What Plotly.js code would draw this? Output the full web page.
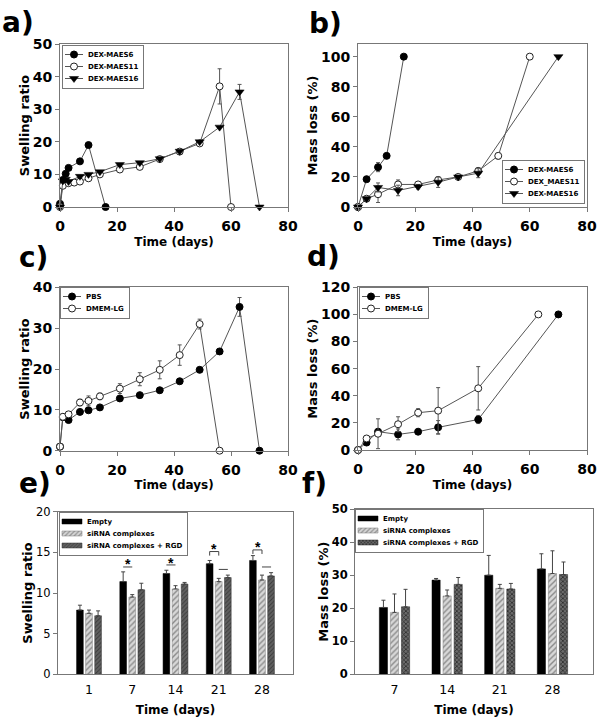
<!DOCTYPE html>
<html><head><meta charset="utf-8">
<script src="https://cdn.plot.ly/plotly-3.0.1.min.js"></script>
<style>body{margin:0;padding:0;background:#fff}#chart{width:604px;height:724px}</style>
</head><body><div id="chart"></div>
<script>
// ---------- Panel a: swelling ratio vs time ----------
const a_t6  = [0,1,2,3,7,10,16];
const a_s6  = [1,8.3,10.2,12,14,19,0];
const a_t11 = [0,1,3,5,7,10,14,21,28,35,42,49,56,60];
const a_s11 = [0,6.5,7.3,7.5,7.8,8.8,10,11.5,12.3,14.7,17,19.5,37,0];
const a_e11 = [0,0,0,0,0,0,0,0,0,0,0,0,5.4,0];
const a_t16 = [0,1,2,3,7,10,14,21,28,35,42,49,56,63,70];
const a_s16 = [0,8,8.5,7.8,9.4,10,10.8,13,13.6,14.8,17.1,20,24.5,35.3,0];
const a_e16 = [0,0,0,0,0,0,0,0,0,0,0,0,0,2.3,0];
// ---------- Panel b: mass loss vs time ----------
const b_t6  = [0,3,7,10,16];
const b_m6  = [0,18.5,26.5,34,100];
const b_e6  = [0,0,3,0,0];
const b_t11 = [0,3,7,14,21,28,35,42,49,60];
const b_m11 = [0,5.5,8.5,15,15,18,20,24,34,100];
const b_e11 = [0,0,5.5,3,1.5,2,1,2,2,0];
const b_t16 = [0,3,7,14,21,28,35,42,70];
const b_m16 = [0,5.5,13,11,13.5,16.5,20,22.5,100];
const b_e16 = [0,1,3,3.5,1.5,3.5,1,3,0];
// ---------- Panel c: swelling in PBS / DMEM-LG ----------
const c_tP = [0,1,3,7,10,14,21,28,35,42,49,56,63,70];
const c_sP = [1,8.2,7.5,9.5,9.9,10.6,12.8,13.6,14.8,17,19.8,24.3,35.2,0];
const c_eP = [0,0,0,0,0,0,0,0,0,0,0,0,2.3,0];
const c_tD = [0,1,3,7,10,14,21,28,35,42,49,56];
const c_sD = [1,8.3,8.9,11.8,12.2,13.3,15.2,17.5,19.8,23.4,31,0];
const c_eD = [0,0,0,0.8,1.2,0.8,1.2,1.6,2.2,2.5,1.2,0];
// ---------- Panel d: mass loss in PBS / DMEM-LG ----------
const d_tP = [0,3,7,14,21,28,42,70];
const d_mP = [0,5.5,13.5,11.5,13.5,16.7,22.5,100];
const d_eP = [0,1,2,4,1.5,5,3,0];
const d_tD = [0,3,7,14,21,28,42,63];
const d_mD = [0,8.5,12,19,27.5,29,45.5,100];
const d_eD = [0,1,11,5.5,3,17,16,0];
// ---------- Panel e: swelling ratio bars ----------
const e_days  = ['1','7','14','21','28'];
const e_empty = [7.9,11.4,12.4,13.6,14.0];
const e_emptyErr = [0.6,1.2,0.4,0.4,0.6];
const e_si    = [7.5,9.5,10.5,11.4,11.6];
const e_siErr = [0.4,0.3,0.4,0.4,0.6];
const e_rgd   = [7.2,10.4,11.1,11.9,12.1];
const e_rgdErr= [0.6,0.8,0.2,0.3,0.4];
// ---------- Panel f: mass loss bars ----------
const f_days  = ['7','14','21','28'];
const f_empty = [20.2,28.5,30,31.9];
const f_emptyErr = [2.2,0.5,6,4.6];
const f_si    = [18.7,23.7,26,30.5];
const f_siErr = [5.6,1.8,1.2,6.9];
const f_rgd   = [20.4,27.2,25.8,30.2];
const f_rgdErr= [5.3,2.1,1.7,3.8];

const names6 = ['DEX-MAES6','DEX-MAES11','DEX-MAES16'];
const namesB = ['DEX-MAES6','DEX_MAES11','DEX-MAES16'];
const namesCD = ['PBS','DMEM-LG'];
const namesBar = ['Empty','siRNA complexes','siRNA complexes + RGD'];

const LC = '#555';
const filled = {symbol:'circle', size:7, color:'#000', line:{color:'#000', width:1}};
const open   = {symbol:'circle', size:7, color:'#fff', line:{color:'#222', width:1}};
const tri    = {symbol:'triangle-down', size:8, color:'#000', line:{color:'#000', width:0.5}};
function err(a){ return {type:'data', array:a, visible:true, color:LC, thickness:1, width:2}; }
function line(x,y,e,m,name,xa,ya,lg){
  return {type:'scatter', mode:'lines+markers', x:x, y:y, name:name, xaxis:xa, yaxis:ya,
    legend:lg, line:{color:LC, width:1}, marker:m, error_y: e? err(e): undefined, cliponaxis:false};
}
function bar(x,y,e,name,xa,ya,lg,style){
  return Object.assign({type:'bar', x:x, y:y, name:name, xaxis:xa, yaxis:ya, legend:lg,
    error_y:{type:'data', symmetric:false, array:e, arrayminus:e.map(()=>0), color:'#444', thickness:1, width:2}}, style);
}
const sBlack = {marker:{color:'#000', line:{color:'#000', width:0.5}}};
const sHatch = {marker:{color:'#d0d0d0', line:{color:'#777', width:0.5}, pattern:{shape:'/', fgcolor:'#8a8a8a', bgcolor:'#d8d8d8', size:4, solidity:0.35}}};
const sDarkE = {marker:{color:'#555', line:{color:'#333', width:0.5}, pattern:{shape:'/', fgcolor:'#3a3a3a', bgcolor:'#606060', size:3, solidity:0.3}}};
const sDarkF = {marker:{color:'#444', line:{color:'#222', width:0.5}, pattern:{shape:'x', fgcolor:'#222', bgcolor:'#6a6a6a', size:3, solidity:0.4}}};

const data = [
  line(a_t6,a_s6,null,filled,names6[0],'x','y','legend'),
  line(a_t11,a_s11,a_e11,open,names6[1],'x','y','legend'),
  line(a_t16,a_s16,a_e16,tri,names6[2],'x','y','legend'),
  line(b_t6,b_m6,b_e6,filled,namesB[0],'x2','y2','legend2'),
  line(b_t11,b_m11,b_e11,open,namesB[1],'x2','y2','legend2'),
  line(b_t16,b_m16,b_e16,tri,namesB[2],'x2','y2','legend2'),
  line(c_tP,c_sP,c_eP,filled,namesCD[0],'x3','y3','legend3'),
  line(c_tD,c_sD,c_eD,open,namesCD[1],'x3','y3','legend3'),
  line(d_tP,d_mP,d_eP,filled,namesCD[0],'x4','y4','legend4'),
  line(d_tD,d_mD,d_eD,open,namesCD[1],'x4','y4','legend4'),
  bar(e_days,e_empty,e_emptyErr,namesBar[0],'x5','y5','legend5',sBlack),
  bar(e_days,e_si,e_siErr,namesBar[1],'x5','y5','legend5',sHatch),
  bar(e_days,e_rgd,e_rgdErr,namesBar[2],'x5','y5','legend5',sDarkE),
  bar(f_days,f_empty,f_emptyErr,namesBar[0],'x6','y6','legend6',sBlack),
  bar(f_days,f_si,f_siErr,namesBar[1],'x6','y6','legend6',sHatch),
  bar(f_days,f_rgd,f_rgdErr,namesBar[2],'x6','y6','legend6',sDarkF)
];

const W=604, H=724;
const px = v => v/W, py = v => 1 - v/H;
const FB = 'DejaVu Sans';
const tickB = {family:FB, size:14, color:'#000', weight:'bold'};
const titleFx = {family:FB, size:12, color:'#000', weight:'bold'};
const titleFy = {family:FB, size:13, color:'#000', weight:'bold'};
function xa(dom, anchor, extra){
  return Object.assign({domain:dom, anchor:anchor, showline:true, mirror:true, linecolor:'#777', linewidth:1,
    ticks:'outside', ticklen:4, tickcolor:'#777', showgrid:false, zeroline:false, tickfont:tickB, ticklabelstandoff:2,
    title:{text:'Time (days)', font:titleFx, standoff:4}}, extra);
}
function ya(dom, anchor, title, extra){
  return Object.assign({domain:dom, anchor:anchor, showline:true, mirror:true, linecolor:'#777', linewidth:1,
    ticks:'outside', ticklen:4, tickcolor:'#777', showgrid:false, zeroline:false, tickfont:tickB,
    title:{text:title, font:titleFy, standoff:0}}, extra);
}
const legFont = {family:FB, size:7, color:'#000', weight:'bold'};
function leg(x,y){
  return {x:x, y:y, xanchor:'left', yanchor:'top', bgcolor:'rgba(0,0,0,0)', bordercolor:'#777', borderwidth:0,
    font:legFont, itemwidth:30, tracegroupgap:0, xref:'paper', yref:'paper'};
}

const colL = [px(60), px(288)], colR = [px(358), px(587)];
const layout = {
  width:W, height:H, margin:{l:0,r:0,t:0,b:0}, paper_bgcolor:'#fff', plot_bgcolor:'#fff',
  showlegend:true, barmode:'group', bargap:0.37, bargroupgap:0.26,
  xaxis:  xa(colL,'y',{range:[0,80], dtick:20}),
  yaxis:  ya([py(207),py(44)],'x','Swelling ratio',{range:[0,50], dtick:10}),
  xaxis2: xa(colR,'y2',{range:[0,80], dtick:20}),
  yaxis2: ya([py(207),py(44)],'x2','Mass loss (%)',{range:[0,108.4], tickvals:[0,20,40,60,80,100]}),
  xaxis3: xa(colL,'y3',{range:[0,80], dtick:20}),
  yaxis3: ya([py(450.7),py(287.3)],'x3','Swelling ratio',{range:[0,40], dtick:10}),
  xaxis4: xa(colR,'y4',{range:[0,80], dtick:20}),
  yaxis4: ya([py(450),py(287.3)],'x4','Mass loss (%)',{range:[0,120], dtick:20}),
  xaxis5: xa([px(58),px(293)],'y5',{type:'category', range:[-0.717,4.717], ticks:'', ticklabelstandoff:4,
           tickfont:{family:FB,size:12.5,color:'#000'}, title:{text:'Time (days)', font:titleFx, standoff:9}}),
  yaxis5: ya([py(674.3),py(511.7)],'x5','Swelling ratio',{range:[0,20], dtick:5, tickfont:{family:FB,size:11.5,color:'#000'}}),
  xaxis6: xa([px(355),px(593)],'y6',{type:'category', range:[-0.75,3.77], ticks:'', ticklabelstandoff:4,
           tickfont:{family:FB,size:12.5,color:'#000'}, title:{text:'Time (days)', font:titleFx, standoff:9}}),
  yaxis6: ya([py(674),py(509.3)],'x6','Mass loss (%)',{range:[0,50], dtick:10, tickfont:{family:FB,size:11.5,color:'#000',weight:'bold'}}),
  legend:  leg(px(62), py(45)),
  legend2: leg(px(502), py(160)),
  legend3: leg(px(60), py(287)),
  legend4: leg(px(359), py(287)),
  legend5: leg(px(59), py(512)),
  legend6: leg(px(355), py(509)),
  annotations: [
    ['a)',0,22.5],['b)',307,23.5],['c)',17,257.5],['d)',305,256],['e)',17,484],['f)',300,483.5]
  ].map(p => ({text:p[0], xref:'paper', yref:'paper', x:px(p[1]), y:py(p[2]), xanchor:'left', yanchor:'middle',
      showarrow:false, font:{family:FB, size:28, color:'#000', weight:'bold'}}))
  .concat([
    {cat:1,x:-0.1,y:13.6},{cat:2,x:-0.1,y:13.75},{cat:3,x:-0.1,y:15.4},{cat:4,x:-0.1,y:15.6}
  ].map(s => ({text:'*', xref:'x5', yref:'y5', x:s.cat+s.x, y:s.y, showarrow:false, yanchor:'middle',
      font:{family:'Liberation Sans', size:14, color:'#000', weight:'bold'}}))),
  shapes: [
    {x0:0.79,x1:1.0,y0:13.2,y1:13.2},
    {x0:1.79,x1:2.0,y0:13.45,y1:13.45},
    {x0:3.0,x1:3.21,y0:12.9,y1:12.9},
    {x0:4.0,x1:4.21,y0:13.2,y1:13.2},
    {x0:2.79,x1:3.0,y0:15.1,y1:15.1},{x0:2.79,x1:2.79,y0:15.1,y1:14.6},{x0:3.0,x1:3.0,y0:15.1,y1:14.6},
    {x0:3.79,x1:4.0,y0:15.3,y1:15.3},{x0:3.79,x1:3.79,y0:15.3,y1:14.8},{x0:4.0,x1:4.0,y0:15.3,y1:14.8}
  ].map(s => Object.assign({type:'line', xref:'x5', yref:'y5', line:{color:'#444', width:1}}, s))
};

// compact the legends (rows closer together, shorter symbol area) like the original figure
const SVGNS = 'http://www.w3.org/2000/svg';
const measureCtx = document.createElement('canvas').getContext('2d');
function textWidth(s){
  measureCtx.font = 'bold 7px "DejaVu Sans"';
  return measureCtx.measureText(s).width;
}
const legendNames = {legend:names6, legend2:namesB, legend3:namesCD, legend4:namesCD, legend5:namesBar, legend6:namesBar};
function compactLegend(lg, id, isBar){
  const traces = Array.from(lg.querySelectorAll('g.traces'));
  if(!traces.length) return;
  const rowH = 12, first = 9.5;
  const shift = isBar ? 13 : 15;          // plotly puts the text at x=40; move it to 40-shift
  traces.forEach((t,i) => {
    t.setAttribute('transform', 'translate(' + (1 - shift) + ',' + (first + i*rowH) + ')');
    t.querySelectorAll('.legendlines path').forEach(p => p.setAttribute('d', 'M' + (2 + shift) + ',0h18'));
    t.querySelectorAll('.legendpoints path').forEach(p => {
      if(isBar){ p.setAttribute('d', 'M-10,2.5H10V-2.5H-10Z'); p.setAttribute('transform', 'translate(' + (12 + shift) + ',0)'); }
      else { p.setAttribute('transform', 'translate(' + (11 + shift) + ',0)'); }
    });
  });
  const maxW = Math.max.apply(null, legendNames[id].map(textWidth));
  let r = lg.querySelector('rect.mybg');
  if(!r){ r = document.createElementNS(SVGNS, 'rect'); r.setAttribute('class', 'mybg'); lg.insertBefore(r, lg.firstChild); }
  r.setAttribute('x', 0.5); r.setAttribute('y', 0.5);
  r.setAttribute('width', Math.round((40 - shift) + maxW + 6));
  r.setAttribute('height', first*2 + (traces.length - 1)*rowH);
  r.setAttribute('fill', '#fff'); r.setAttribute('stroke', '#777'); r.setAttribute('stroke-width', 1);
  r.setAttribute('shape-rendering', 'crispEdges');
}
function compactAll(){
  const gd = document.getElementById('chart');
  ['legend','legend2','legend3','legend4','legend5','legend6'].forEach((id,i) => {
    const lg = gd.querySelector('.infolayer g.' + id);
    if(lg) compactLegend(lg, id, i >= 4);
  });
}

Plotly.newPlot('chart', data, layout, {staticPlot:true, displayModeBar:false}).then(gd => {
  compactAll();
  gd.on('plotly_afterplot', compactAll);
  [30, 120, 300, 600].forEach(ms => setTimeout(compactAll, ms));
});
</script></body></html>
